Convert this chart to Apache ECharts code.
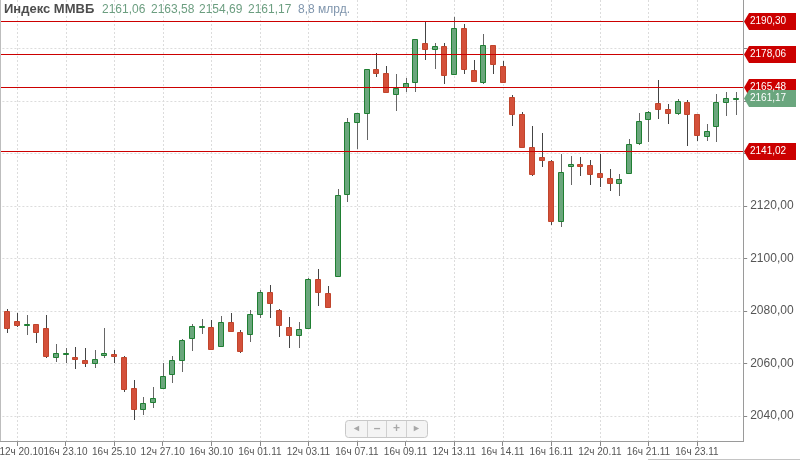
<!DOCTYPE html>
<html><head><meta charset="utf-8">
<script src="https://cdn.jsdelivr.net/npm/echarts@6/dist/echarts.min.js"></script>
<style>html,body{margin:0;padding:0;background:#fff}#c{width:800px;height:461px}</style>
</head><body><div id="c"></div>
<script>
const title = 'Индекс ММВБ';
const volumeText = '8,8 млрд.';
const tickLabels = ['12ч 20.10','16ч 23.10','16ч 25.10','12ч 27.10','16ч 30.10','16ч 01.11','12ч 03.11','16ч 07.11','16ч 09.11','12ч 13.11','16ч 14.11','16ч 16.11','12ч 20.11','16ч 21.11','16ч 23.11'];
const opens  = [2080.0,2076.2,2074.7,2075.0,2073.4,2062.6,2063.6,2062.6,2061.2,2060.1,2063.2,2063.7,2062.6,2050.8,2042.6,2045.4,2050.6,2055.9,2061.3,2069.8,2073.8,2074.0,2066.7,2075.7,2071.9,2071.2,2079.0,2087.4,2080.4,2074.0,2070.9,2073.4,2092.2,2087.0,2093.3,2124.7,2152.1,2155.3,2172.1,2170.6,2162.5,2165.4,2167.4,2182.0,2179.7,2181.0,2170.2,2187.7,2171.8,2167.4,2181.3,2173.3,2161.4,2154.9,2142.6,2138.8,2137.3,2114.4,2135.4,2135.9,2135.6,2132.5,2130.8,2128.9,2132.7,2143.9,2153.0,2159.4,2156.8,2155.3,2159.6,2154.9,2146.7,2150.5,2159.7,2161.06];
const closes = [2073.4,2074.7,2075.2,2072.1,2062.9,2063.9,2064.0,2061.7,2060.1,2061.8,2063.9,2063.0,2050.2,2042.6,2044.8,2047.0,2055.2,2061.3,2069.0,2074.3,2074.3,2065.5,2075.7,2072.5,2064.8,2078.7,2087.4,2083.2,2074.7,2070.9,2073.0,2092.2,2087.4,2081.6,2124.3,2151.9,2155.3,2172.1,2170.8,2163.5,2164.8,2167.0,2183.5,2179.7,2181.0,2169.9,2187.7,2172.1,2167.7,2181.3,2174.0,2167.1,2155.0,2142.6,2132.2,2137.5,2114.4,2132.8,2135.9,2135.4,2132.2,2131.2,2128.9,2130.4,2143.6,2152.4,2155.9,2156.8,2155.3,2160.0,2154.9,2147.0,2148.6,2159.7,2161.0,2161.17];
const lows   = [2071.5,2073.8,2070.9,2067.9,2062.0,2060.7,2060.3,2057.9,2058.6,2058.2,2062.0,2060.1,2049.0,2038.5,2040.4,2043.2,2050.3,2052.7,2056.9,2064.9,2071.2,2065.1,2066.4,2071.9,2064.1,2068.3,2077.2,2077.5,2070.2,2065.8,2065.8,2073.0,2082.0,2081.3,2092.8,2121.4,2141.6,2145.0,2169.3,2162.9,2156.3,2163.3,2163.5,2175.6,2172.1,2166.5,2170.0,2170.3,2167.4,2166.5,2170.3,2166.7,2150.5,2142.0,2131.5,2135.0,2112.8,2112.1,2128.0,2131.4,2128.0,2127.1,2125.8,2123.8,2132.5,2143.2,2144.5,2153.0,2151.2,2154.7,2143.0,2144.9,2144.9,2144.5,2154.3,2154.69];
const highs  = [2080.6,2079.4,2078.5,2075.2,2078.5,2067.3,2066.0,2066.2,2065.8,2065.1,2073.4,2065.1,2062.8,2053.7,2047.4,2050.9,2060.3,2062.9,2069.2,2074.9,2076.8,2076.6,2078.1,2079.1,2072.8,2080.4,2088.0,2089.9,2080.6,2077.6,2075.9,2092.4,2095.9,2089.5,2126.4,2153.4,2155.5,2172.3,2178.4,2173.3,2170.3,2168.9,2183.6,2190.5,2182.2,2182.0,2191.9,2189.3,2175.6,2185.4,2181.5,2175.4,2162.3,2155.9,2150.5,2147.7,2137.5,2139.8,2139.2,2138.8,2137.5,2139.8,2134.0,2132.2,2145.4,2155.5,2156.1,2168.0,2158.9,2160.6,2160.4,2155.1,2151.1,2162.7,2163.5,2163.58];
const levels = [2190.30, 2178.06, 2165.48, 2141.02];
const yLabelValues = [2040, 2060, 2080, 2100, 2120];

const N = opens.length;
const categories = opens.map((_, i) => String(i));
const tickIdx = tickLabels.map((_, k) => 1 + 5 * k);
const candleData = opens.map((o, i) => [i, o, closes[i], lows[i], highs[i]]);
const last = N - 1;
const fmt = v => v.toFixed(2).replace('.', ',');
const FONT = '"Liberation Sans", Arial, sans-serif';
const Y_MIN = 2020, Y_MAX = 2200, Y_BOTTOM_VIS = 2030.1;

const UP_FILL = '#6aa67c', UP_STROKE = '#1f7f32';
const DN_FILL = '#d4503a', DN_STROKE = '#c0452c';

function renderCandle(params, api) {
  const i = api.value(0), o = api.value(1), c = api.value(2), l = api.value(3), h = api.value(4);
  const po = api.coord([i, o]), pc = api.coord([i, c]), pl = api.coord([i, l]), ph = api.coord([i, h]);
  const up = c >= o;
  const n = Math.round(po[0]);
  const cx = n + 0.5;
  const top = Math.round(Math.min(po[1], pc[1])) + 0.5;
  const bot = Math.round(Math.max(po[1], pc[1])) + 0.5;
  const hgt = Math.max(bot - top, 1);
  return {
    type: 'group',
    children: [
      { type: 'line', shape: { x1: cx, y1: Math.round(ph[1]), x2: cx, y2: Math.round(pl[1]) },
        style: { stroke: up ? '#666' : '#444', lineWidth: 1 } },
      { type: 'rect', shape: { x: n - 3 + 0.5, y: top, width: 5, height: hgt },
        style: { fill: up ? UP_FILL : DN_FILL, stroke: up ? UP_STROKE : DN_STROKE, lineWidth: 1 } }
    ]
  };
}

function renderVGrid(params, api) {
  const i = api.value(0);
  const a = api.coord([i, Y_BOTTOM_VIS]), b = api.coord([i, Y_MAX]);
  const x = Math.round(a[0]) + 0.5;
  return { type: 'line', shape: { x1: x, y1: a[1], x2: x, y2: b[1] },
    style: { stroke: '#dcdcdc', lineWidth: 1, lineDash: [2, 2] } };
}

function renderLevel(params, api) {
  const v = api.value(1);
  const y = Math.round(api.coord([0, v])[1]) + 0.5;
  const cs = params.coordSys;
  return { type: 'line', shape: { x1: 0, y1: y, x2: cs.x + cs.width + 3, y2: y },
    style: { stroke: '#cc0000', lineWidth: 1 } };
}

const chart = echarts.init(document.getElementById('c'), null, { renderer: 'canvas' });

const headerX = [102, 151, 199, 248];
const headerVals = [opens[last], highs[last], lows[last], closes[last]];

const option = {
  animation: false,
  backgroundColor: '#ffffff',
  grid: { left: 2.4, right: 59.3, top: -4, bottom: -7.5, containLabel: false, outerBoundsMode: 'none' },
  xAxis: {
    type: 'category',
    data: categories,
    boundaryGap: true,
    position: 'bottom',
    offset: -26.5,
    axisLine: { show: false },
    axisTick: { show: true, alignWithLabel: true, length: 4, interval: (idx) => idx % 5 === 1,
      lineStyle: { color: '#888' } },
    axisLabel: {
      show: true, interval: (idx) => idx % 5 === 1, margin: 5, hideOverlap: false,
      showMinLabel: true, showMaxLabel: true,
      color: '#555', fontSize: 10, fontFamily: FONT,
      formatter: (v, idx) => {
        const k = (idx - 1) / 5;
        const t = tickLabels[k] || '';
        return k === 0 ? '{f|' + t + '}' : t;
      },
      rich: { f: { padding: [0, 0, 0, 9], fontSize: 10, color: '#555', fontFamily: FONT } }
    },
    splitLine: { show: false }
  },
  yAxis: {
    type: 'value',
    position: 'right',
    offset: 2.5,
    min: Y_MIN, max: Y_MAX, interval: 20,
    axisLine: { show: false },
    axisTick: { show: true, length: 4, lineStyle: { color: '#888' } },
    axisLabel: {
      margin: 7, color: '#555', fontSize: 12, fontFamily: FONT,
      formatter: v => yLabelValues.indexOf(Math.round(v)) >= 0 ? fmt(v) : ''
    },
    splitLine: { show: true, lineStyle: { color: '#dcdcdc', width: 1, type: [2, 2] } }
  },
  series: [
    {
      type: 'custom', name: 'vgrid', z: 1, silent: true,
      renderItem: renderVGrid,
      data: tickIdx.map(i => [i]),
      encode: { x: 0 }
    },
    {
      type: 'custom', name: 'candles', z: 3,
      renderItem: renderCandle,
      data: candleData,
      encode: { x: 0, y: [1, 2, 3, 4] }
    },
    {
      type: 'custom', name: 'levels', z: 4, silent: true, clip: false,
      renderItem: renderLevel,
      data: levels.map(v => [0, v]),
      encode: { x: 0, y: 1 }
    }
  ],
  graphic: []
};
chart.setOption(option);

const g = [];
// frame
g.push({ type: 'line', shape: { x1: 0.5, y1: 0, x2: 0.5, y2: 442 }, style: { stroke: '#bdbdbd', lineWidth: 1 }, z: 10 });
g.push({ type: 'line', shape: { x1: 743.5, y1: 0, x2: 743.5, y2: 442 }, style: { stroke: '#9a9a9a', lineWidth: 1 }, z: 10 });
g.push({ type: 'line', shape: { x1: 0, y1: 441.5, x2: 744, y2: 441.5 }, style: { stroke: '#9a9a9a', lineWidth: 1 }, z: 10 });
g.push({ type: 'line', shape: { x1: 648, y1: 459.5, x2: 800, y2: 459.5 }, style: { stroke: '#c4c4c4', lineWidth: 1 }, z: 10 });

// header
g.push({ type: 'text', left: 4, top: 3, z: 20,
  style: { text: title, fill: '#4d4d4d', font: 'bold 13px ' + FONT } });
headerVals.forEach((v, k) => g.push({ type: 'text', left: headerX[k], top: 4, z: 20,
  style: { text: fmt(v), fill: '#6c9e80', font: '12px ' + FONT } }));
g.push({ type: 'text', left: 298, top: 4, z: 20,
  style: { text: volumeText, fill: '#7f95ad', font: '12px ' + FONT } });

// price tags
function tag(v, color) {
  const y = Math.round(chart.convertToPixel({ yAxisIndex: 0 }, v)) + 0.5;
  g.push({ type: 'polygon', z: 30,
    shape: { points: [[744, y], [749, y - 8.5], [796, y - 8.5], [796, y + 8.5], [749, y + 8.5]] },
    style: { fill: color } });
  g.push({ type: 'text', z: 31, x: 750, y: y,
    style: { text: fmt(v), fill: '#ffffff', font: '10px ' + FONT, textVerticalAlign: 'middle', verticalAlign: 'middle' } });
}
levels.forEach(v => tag(v, '#cc0000'));
tag(closes[last], '#6aa67e');

// navigation widget
const wx = 345, wy = 420, ww = 82, wh = 17;
g.push({ type: 'rect', z: 25, shape: { x: wx + 0.5, y: wy + 0.5, width: ww, height: wh, r: 3 },
  style: { fill: '#f4f4f4', stroke: '#c8c8c8', lineWidth: 1 } });
[367.5, 386.5, 406.5].forEach(x => g.push({ type: 'line', z: 26,
  shape: { x1: x, y1: wy + 1, x2: x, y2: wy + wh }, style: { stroke: '#d0d0d0', lineWidth: 1 } }));
[['◄', 356.5], ['–', 377], ['+', 396.5], ['►', 416.5]].forEach(([t, x]) => g.push({ type: 'text', z: 27,
  x: x, y: wy + wh / 2 + 0.5,
  style: { text: t, fill: '#a8a8a8', font: (t === '+' || t === '–' ? 'bold 12px ' : '9px ') + FONT,
    textAlign: 'center', align: 'center', textVerticalAlign: 'middle', verticalAlign: 'middle' } }));

chart.setOption({ graphic: g });
</script></body></html>
